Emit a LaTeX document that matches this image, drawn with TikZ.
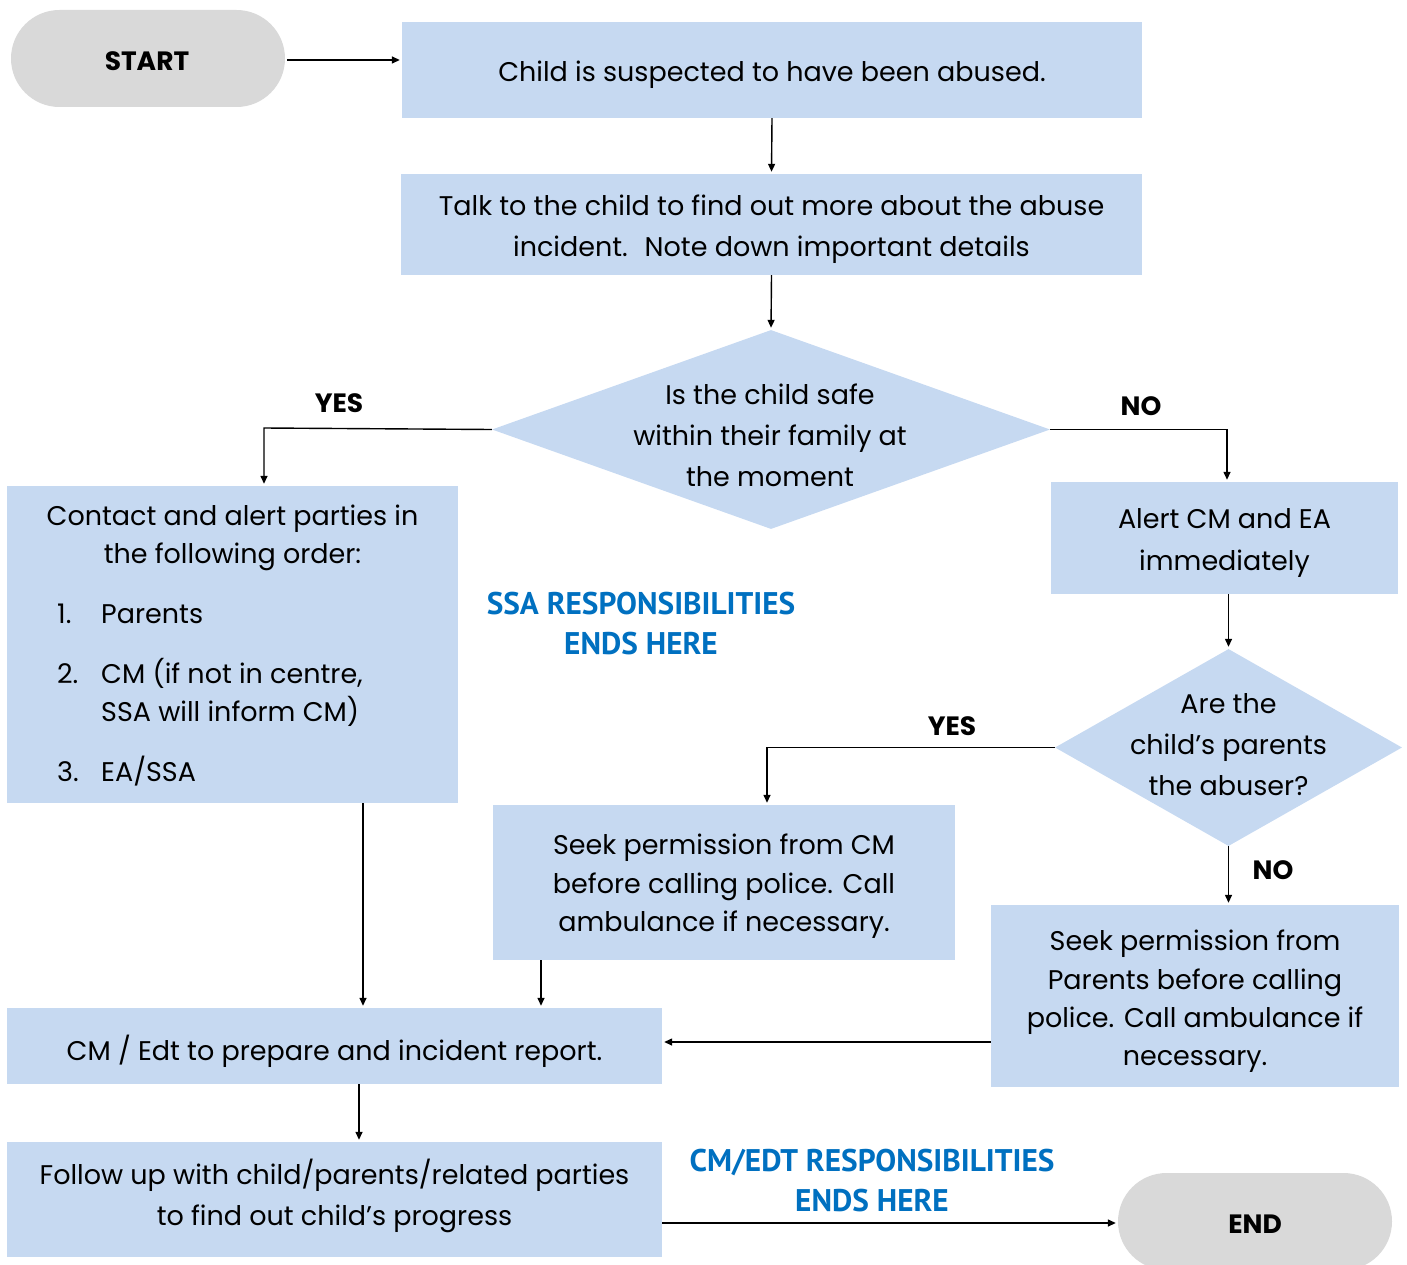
\documentclass[tikz,border=0pt]{standalone}
\usepackage{fontspec}
\setmainfont{Poppins}
\newfontfamily\headfont{PT Sans}
\usetikzlibrary{shapes.geometric,arrows.meta}
\definecolor{boxblue}{HTML}{C6D9F1}
\definecolor{termgray}{HTML}{D9D9D9}
\definecolor{headblue}{HTML}{0070C0}
\tikzset{
  panel/.style={fill=boxblue, draw=none, inner sep=0pt},
  decision/.style={diamond, fill=boxblue, draw=none, inner sep=0pt},
  terminal/.style={fill=termgray, draw=none, inner sep=0pt, rounded corners=48.5pt,
    minimum width=274pt, minimum height=97pt},
  body/.style={align=center, inner sep=0pt, yshift=-3pt, font=\fontsize{27}{41}\selectfont},
  item/.style={anchor=base west, inner sep=0pt, font=\fontsize{27}{41}\selectfont},
  tag/.style={inner sep=0pt, font=\fontsize{26.5}{30}\selectfont\bfseries},
  headline/.style={align=center, inner sep=0pt, text=headblue,
    font=\headfont\fontsize{31.3}{40}\selectfont\bfseries},
  arr/.style={-{Triangle[length=8pt,width=7pt]}, line width=1.4pt, shorten >=2pt}
}
\begin{document}
\begin{tikzpicture}[x=1pt,y=-1pt]
\useasboundingbox (0,0) rectangle (1407,1265);
\clip (0,0) rectangle (1407,1265);

% terminals
\node[terminal] (start) at (148,58.5) {};
\node[tag] (starttext) at (147,61) {START};
\node[terminal] (end) at (1255,1221.5) {};
\node[tag] (endtext) at (1255,1224) {END};

% process boxes
\node[panel, minimum width=740pt, minimum height=96pt] (suspect) at (772,70) {};
\node[panel, minimum width=741pt, minimum height=101pt] (talk) at (771.5,224.5) {};
\node[panel, minimum width=451pt, minimum height=317pt] (contact) at (232.5,644.5) {};
\node[panel, minimum width=347pt, minimum height=112pt] (alert) at (1224.5,538) {};
\node[panel, minimum width=462pt, minimum height=155pt] (seekcm) at (724,882.5) {};
\node[panel, minimum width=408pt, minimum height=182pt] (seekpar) at (1195,996) {};
\node[panel, minimum width=655pt, minimum height=76pt] (report) at (334.5,1046) {};
\node[panel, minimum width=655pt, minimum height=115pt] (follow) at (334.5,1199.5) {};

% decisions
\node[decision, minimum width=558pt, minimum height=199pt] (safe) at (771,429.5) {};
\node[decision, minimum width=347pt, minimum height=197pt] (abuser) at (1228.5,747.5) {};

% texts
\node[body] (suspecttext) at (772,72) {Child is suspected to have been abused.};
\node[body] (talktext) at (771.5,226.5) {Talk to the child to find out more about the abuse\\incident.~ Note down important details};
\node[body] (safetext) at (770,432) {Is the child safe\\within their family at\\the moment};
\node[body, font=\fontsize{27}{38}\selectfont] (contacttext) at (232.5,535) {Contact and alert parties in\\the following order:};
\node[item] (n1) at (57,623) {1.};
\node[item] (i1) at (101,623) {Parents};
\node[item] (n2) at (57,683) {2.};
\node[item] (i2a) at (101,683) {CM (if not in centre,};
\node[item] (i2b) at (101,721) {SSA will inform CM)};
\node[item] (n3) at (57,781) {3.};
\node[item] (i3) at (101,781) {EA/SSA};
\node[body, font=\fontsize{27}{42}\selectfont] (alerttext) at (1224.5,540) {Alert CM and EA\\immediately};
\node[body] (abusertext) at (1228.5,742) {Are the\\child’s parents\\the abuser?};
\node[body, font=\fontsize{27}{38.5}\selectfont] (seekcmtext) at (724,883.5) {Seek permission from CM\\before calling police. Call\\ambulance if necessary.};
\node[body, font=\fontsize{27}{38.3}\selectfont] (seekpartext) at (1195,998.5) {Seek permission from\\Parents before calling\\police. Call ambulance if\\necessary.};
\node[body] (reporttext) at (334.5,1048) {CM / Edt to prepare and incident report.};
\node[body] (followtext) at (334.5,1192.5) {Follow up with child/parents/related parties\\to find out child’s progress};

% branch labels and notes
\node[tag] (yes1) at (339,403) {YES};
\node[tag] (no1) at (1141,406) {NO};
\node[tag] (yes2) at (952,726) {YES};
\node[tag] (no2) at (1273,870) {NO};
\node[headline] (ssanote) at (641,623.5) {SSA RESPONSIBILITIES\\ENDS HERE};
\node[headline] (cmnote) at (872,1181) {CM/EDT RESPONSIBILITIES\\ENDS HERE};

% connectors
\coordinate (yesturn) at (264,428);
\coordinate (noturn) at (1227,429.5);
\coordinate (yesturn2) at (767,747.5);
\coordinate (contactdrop) at (363,0);
\coordinate (seekcmdrop) at (541,0);
\coordinate (reportdrop) at (359,0);
\draw[arr] (start.east -| 287,0) ++(0,1.5) -- (suspect.west |- 0,60);
\draw[arr] (suspect.south) -- (talk.north);
\draw[arr] (talk.south) -- (safe.north);
\draw[arr] (safe.west) -- (yesturn) -- (yesturn |- contact.north);
\draw[arr] (safe.east) -- (noturn) -- (noturn |- alert.north);
\draw[arr] (alert.south -| abuser.north) -- (abuser.north);
\draw[arr] (abuser.west) -- (yesturn2) -- (yesturn2 |- seekcm.north);
\draw[arr] (abuser.south) -- (abuser.south |- seekpar.north);
\draw[arr] (contactdrop |- contact.south) -- (contactdrop |- report.north);
\draw[arr] (seekcmdrop |- seekcm.south) -- (seekcmdrop |- report.north);
\draw[arr] (seekpar.west |- 0,1042) -- (report.east |- 0,1042);
\draw[arr] (reportdrop |- report.south) -- (reportdrop |- follow.north);
\draw[arr] (follow.east |- 0,1223) -- (end.west |- 0,1223);
\end{tikzpicture}
\end{document}
